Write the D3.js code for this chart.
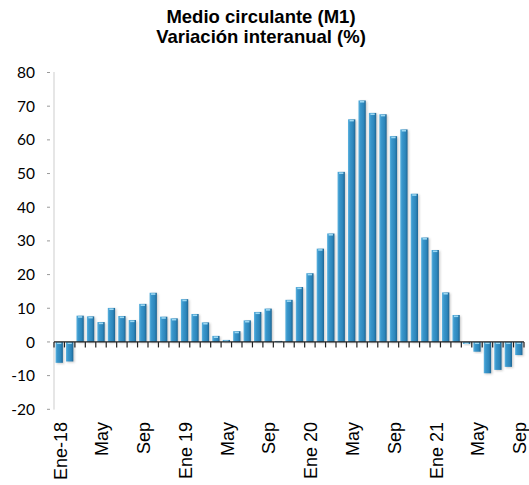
<!DOCTYPE html>
<html>
<head>
<meta charset="utf-8">
<script src="https://cdn.jsdelivr.net/npm/d3@7"></script>
<style>
  html, body { margin: 0; padding: 0; background: #fff; }
  svg { display: block; }
</style>
</head>
<body>
<svg id="chart" width="529" height="485"></svg>
<script>
const months = [
  "2018-01","2018-02","2018-03","2018-04","2018-05","2018-06","2018-07","2018-08","2018-09","2018-10","2018-11","2018-12",
  "2019-01","2019-02","2019-03","2019-04","2019-05","2019-06","2019-07","2019-08","2019-09","2019-10","2019-11","2019-12",
  "2020-01","2020-02","2020-03","2020-04","2020-05","2020-06","2020-07","2020-08","2020-09","2020-10","2020-11","2020-12",
  "2021-01","2021-02","2021-03","2021-04","2021-05","2021-06","2021-07","2021-08","2021-09"
];
const values = [
  -6.2, -5.8, 7.8, 7.6, 5.9, 10.1, 7.7, 6.5, 11.3, 14.6, 7.5, 7.0,
  12.7, 8.3, 5.8, 1.8, 0.6, 3.2, 6.4, 8.9, 9.9, 0.3, 12.5, 16.3,
  20.4, 27.7, 32.2, 50.5, 66.1, 71.7, 68.0, 67.6, 61.1, 63.1, 44.0, 31.0,
  27.3, 14.7, 8.0, -0.6, -2.9, -9.3, -8.3, -7.4, -3.9
];
const tickMonths = ["2018-01","2018-05","2018-09","2019-01","2019-05","2019-09","2020-01","2020-05","2020-09","2021-01","2021-05","2021-09"];
const tickLabels = ["Ene-18","May","Sep","Ene 19","May","Sep","Ene 20","May","Sep","Ene 21","May","Sep"];
const yTicks = [80, 70, 60, 50, 40, 30, 20, 10, 0, -10, -20];
const titleLines = ["Medio circulante (M1)", "Variación interanual (%)"];

const svg = d3.select("#chart");
const plotLeft = 54, plotRight = 524, plotTop = 72.5, plotBottom = 409.3;

const x = d3.scaleBand().domain(months).range([plotLeft, plotRight]).paddingInner(0.3).paddingOuter(0.15);
const step = x.step();
const y = d3.scaleLinear().domain([-20, 80]).range([plotBottom, plotTop]);

// gradients
const defs = svg.append("defs");
const g1 = defs.append("linearGradient").attr("id", "barGrad").attr("x1", "0").attr("x2", "1").attr("y1", "0").attr("y2", "0");
g1.append("stop").attr("offset", "0%").attr("stop-color", "#5fb4e0");
g1.append("stop").attr("offset", "25%").attr("stop-color", "#3a97cc");
g1.append("stop").attr("offset", "70%").attr("stop-color", "#2d86bb");
g1.append("stop").attr("offset", "100%").attr("stop-color", "#1d6593");
const f = defs.append("filter").attr("id", "blur").attr("x", "-50%").attr("y", "-10%").attr("width", "200%").attr("height", "120%");
f.append("feGaussianBlur").attr("stdDeviation", 0.8);

// title
svg.append("g").selectAll("text").data(titleLines).join("text")
  .attr("x", 261).attr("y", (d, i) => 22.5 + i * 20.7)
  .attr("text-anchor", "middle")
  .attr("font-family", "Liberation Sans, Arial, sans-serif")
  .attr("font-weight", "bold").attr("font-size", 18.5).attr("fill", "#000")
  .text(d => d);

// y axis
const yAxis = svg.append("g");
yAxis.append("line").attr("x1", plotLeft).attr("x2", plotLeft).attr("y1", y(80)).attr("y2", y(-20))
  .attr("stroke", "#9a9a9a").attr("stroke-width", 1).attr("stroke-dasharray", "1,1");
yAxis.selectAll(".yt").data(yTicks).join("line").attr("class", "yt")
  .attr("x1", plotLeft - 7).attr("x2", plotLeft - 4).attr("y1", d => y(d)).attr("y2", d => y(d))
  .attr("stroke", "#9a9a9a").attr("stroke-width", 1);
yAxis.selectAll("text").data(yTicks).join("text")
  .attr("x", 35).attr("y", d => y(d)).attr("dy", "0.36em")
  .attr("text-anchor", "end")
  .attr("font-family", "Lato, 'Open Sans', sans-serif").attr("font-size", 15.5).attr("fill", "#000")
  .text(d => d);

// bar shadows
svg.append("g").selectAll("rect").data(values).join("rect")
  .attr("x", (d, i) => x(months[i]) + 1.3)
  .attr("y", d => Math.min(y(d), y(0)) + 1)
  .attr("width", x.bandwidth())
  .attr("height", d => Math.abs(y(d) - y(0)))
  .attr("fill", "#8a8a8a").attr("opacity", 0.45).attr("filter", "url(#blur)");

// bars
svg.append("g").selectAll("rect").data(values).join("rect")
  .attr("x", (d, i) => x(months[i]))
  .attr("y", d => Math.min(y(d), y(0)))
  .attr("width", x.bandwidth())
  .attr("height", d => Math.abs(y(d) - y(0)))
  .attr("fill", "url(#barGrad)");

// caps (lighter top of each bar)
svg.append("g").selectAll("rect").data(values).join("rect")
  .attr("x", (d, i) => x(months[i]) + 1.5)
  .attr("y", d => (d >= 0 ? y(d) : y(0)) + 0.5)
  .attr("width", x.bandwidth() - 3)
  .attr("height", d => Math.min(1.6, Math.abs(y(d) - y(0))))
  .attr("fill", "#a8e0f7").attr("opacity", 0.9);

// zero line and ticks
const xAxis = svg.append("g");
xAxis.append("line").attr("x1", plotLeft).attr("x2", plotRight).attr("y1", y(0)).attr("y2", y(0))
  .attr("stroke", "#222").attr("stroke-width", 1.2);
xAxis.selectAll(".xt").data(d3.range(months.length + 1)).join("line").attr("class", "xt")
  .attr("x1", i => plotLeft + i * step).attr("x2", i => plotLeft + i * step)
  .attr("y1", y(0)).attr("y2", y(0) + 5.5)
  .attr("stroke", "#222").attr("stroke-width", 1.2);

// x labels
xAxis.selectAll("text").data(tickMonths).join("text")
  .attr("transform", d => `translate(${x(d) + x.bandwidth() / 2 + 1},422) rotate(-90)`)
  .attr("dy", "0.35em")
  .attr("text-anchor", "end")
  .attr("font-family", "Liberation Sans, Arial, sans-serif").attr("font-size", 18).attr("fill", "#000")
  .text((d, i) => tickLabels[i]);
</script>
</body>
</html>
